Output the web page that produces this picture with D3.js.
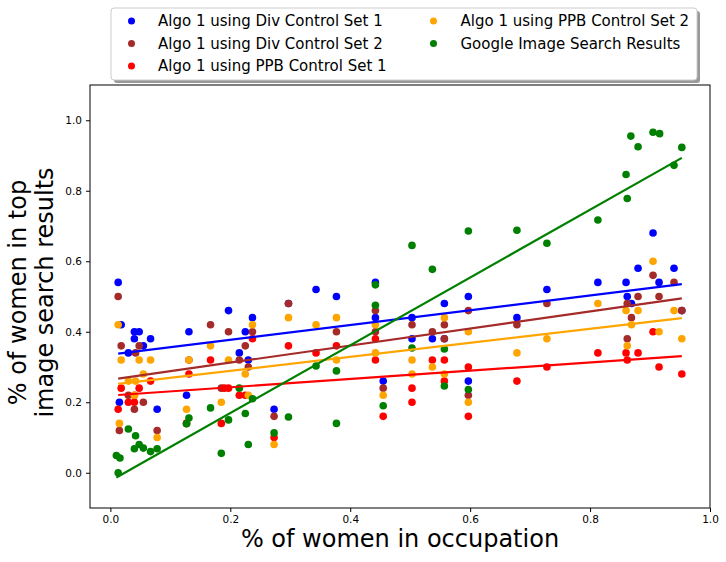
<!DOCTYPE html>
<html>
<head>
<meta charset="utf-8">
<script src="https://cdn.jsdelivr.net/npm/d3@7"></script>
<style>
body { margin: 0; background: #fff; }
text { font-family: "DejaVu Sans", sans-serif; }
</style>
</head>
<body>
<div id="vis"></div>
<script>
// values: [share of women in occupation, share in image results]
var div1 = [[0.013,0.54],[0.018,0.42],[0.015,0.20],[0.03,0.34],[0.04,0.40],[0.048,0.40],[0.04,0.38],[0.055,0.36],[0.067,0.38],[0.078,0.18],[0.131,0.40],[0.127,0.22],[0.197,0.46],[0.215,0.34],[0.225,0.40],[0.23,0.32],[0.237,0.44],[0.273,0.18],[0.297,0.48],[0.343,0.52],[0.377,0.50],[0.442,0.54],[0.442,0.44],[0.455,0.26],[0.503,0.44],[0.503,0.38],[0.537,0.38],[0.557,0.48],[0.557,0.38],[0.597,0.50],[0.597,0.26],[0.678,0.44],[0.728,0.52],[0.813,0.54],[0.86,0.54],[0.862,0.50],[0.869,0.48],[0.88,0.58],[0.905,0.68],[0.915,0.54],[0.94,0.58],[0.953,0.46]];
var div2 = [[0.013,0.50],[0.018,0.36],[0.015,0.12],[0.042,0.34],[0.048,0.36],[0.03,0.22],[0.04,0.18],[0.055,0.20],[0.078,0.12],[0.131,0.32],[0.127,0.14],[0.167,0.42],[0.185,0.24],[0.197,0.40],[0.215,0.32],[0.225,0.36],[0.23,0.30],[0.237,0.40],[0.273,0.16],[0.297,0.48],[0.377,0.40],[0.442,0.46],[0.442,0.40],[0.455,0.24],[0.503,0.42],[0.537,0.40],[0.557,0.42],[0.557,0.38],[0.597,0.46],[0.597,0.22],[0.678,0.42],[0.728,0.48],[0.862,0.48],[0.862,0.38],[0.869,0.44],[0.88,0.50],[0.905,0.56],[0.915,0.50],[0.94,0.54],[0.953,0.46]];
var ppb1 = [[0.013,0.18],[0.018,0.24],[0.03,0.20],[0.04,0.20],[0.04,0.22],[0.048,0.24],[0.067,0.26],[0.131,0.28],[0.127,0.14],[0.167,0.32],[0.185,0.14],[0.197,0.24],[0.19,0.24],[0.215,0.22],[0.225,0.22],[0.237,0.38],[0.273,0.10],[0.297,0.36],[0.343,0.34],[0.377,0.36],[0.442,0.38],[0.442,0.32],[0.455,0.16],[0.503,0.24],[0.503,0.20],[0.537,0.32],[0.557,0.32],[0.557,0.26],[0.597,0.30],[0.597,0.16],[0.678,0.26],[0.728,0.30],[0.813,0.34],[0.86,0.34],[0.862,0.32],[0.88,0.34],[0.905,0.40],[0.915,0.30],[0.953,0.28]];
var ppb2 = [[0.013,0.42],[0.018,0.32],[0.015,0.14],[0.048,0.32],[0.067,0.32],[0.055,0.28],[0.03,0.26],[0.042,0.26],[0.04,0.22],[0.078,0.10],[0.131,0.32],[0.127,0.18],[0.167,0.36],[0.185,0.20],[0.197,0.32],[0.225,0.28],[0.23,0.22],[0.237,0.42],[0.273,0.08],[0.297,0.44],[0.343,0.42],[0.377,0.44],[0.377,0.32],[0.442,0.42],[0.442,0.34],[0.455,0.22],[0.503,0.32],[0.503,0.28],[0.537,0.30],[0.557,0.44],[0.557,0.28],[0.597,0.40],[0.597,0.20],[0.678,0.34],[0.728,0.38],[0.813,0.48],[0.86,0.46],[0.862,0.36],[0.869,0.42],[0.88,0.46],[0.905,0.60],[0.915,0.40],[0.94,0.46],[0.953,0.38]];
var google = [[0.013,0.0],[0.01,0.049],[0.016,0.042],[0.03,0.124],[0.042,0.105],[0.048,0.08],[0.04,0.068],[0.055,0.07],[0.067,0.06],[0.078,0.068],[0.131,0.155],[0.127,0.139],[0.167,0.184],[0.185,0.055],[0.197,0.15],[0.215,0.24],[0.225,0.168],[0.23,0.08],[0.237,0.21],[0.273,0.113],[0.297,0.158],[0.343,0.303],[0.377,0.289],[0.377,0.14],[0.442,0.533],[0.442,0.475],[0.455,0.19],[0.503,0.645],[0.503,0.354],[0.537,0.577],[0.557,0.351],[0.557,0.246],[0.597,0.686],[0.597,0.236],[0.678,0.688],[0.728,0.651],[0.813,0.717],[0.86,0.846],[0.862,0.778],[0.868,0.955],[0.88,0.925],[0.905,0.966],[0.916,0.962],[0.94,0.872],[0.953,0.923]];

var seriesNames = ["Algo 1 using Div Control Set 1", "Algo 1 using Div Control Set 2", "Algo 1 using PPB Control Set 1", "Algo 1 using PPB Control Set 2", "Google Image Search Results"];
var seriesData = [div1, div2, ppb1, ppb2, google];
var colors = ["#0000ff", "#a52a2a", "#ff0000", "#ffa500", "#008000"];
var xTicks = [0.0, 0.2, 0.4, 0.6, 0.8, 1.0];
var yTicks = [0.0, 0.2, 0.4, 0.6, 0.8, 1.0];

var w = 726;
var h = 562;
var mLeft = 90, mRight = 710, mTop = 85, mBottom = 508;

var svg = d3.select("#vis")
            .append("svg")
            .attr("width", w)
            .attr("height", h)

const x = d3.scaleLinear().domain([-0.034, 1.0]).range([mLeft, mRight])
const y = d3.scaleLinear().domain([-0.1, 1.1]).range([mBottom, mTop])

// least squares fit for each series
function fit(pts) {
  var mx = d3.mean(pts, d => d[0]), my = d3.mean(pts, d => d[1]);
  var sxy = d3.sum(pts, d => (d[0]-mx)*(d[1]-my));
  var sxx = d3.sum(pts, d => (d[0]-mx)*(d[0]-mx));
  var b = sxy/sxx, a = my - b*mx;
  var ext = d3.extent(pts, d => d[0]);
  return ext.map(v => [v, a + b*v]);
}

seriesData.forEach(function(pts, i) {
  svg.append("g").selectAll("circle")
     .data(pts)
     .enter()
     .append("circle")
     .attr("cx", d => x(d[0]))
     .attr("cy", d => y(d[1]))
     .attr("r", 3.8)
     .attr("fill", colors[i])
});

seriesData.forEach(function(pts, i) {
  svg.append("path")
     .datum(fit(pts))
     .attr("d", d3.line().x(d => x(d[0])).y(d => y(d[1])))
     .attr("stroke", colors[i])
     .attr("stroke-width", 2.2)
     .attr("fill", "none")
});

// frame
svg.append("rect")
   .attr("x", mLeft).attr("y", mTop)
   .attr("width", mRight-mLeft).attr("height", mBottom-mTop)
   .attr("fill", "none").attr("stroke", "#000").attr("stroke-width", 1)

const xAxis = svg.append("g")
   .attr("transform", `translate(0,${mBottom})`)
   .call(d3.axisBottom(x).tickValues(xTicks).tickFormat(d3.format(".1f")).tickSize(4).tickPadding(4))
const yAxis = svg.append("g")
   .attr("transform", `translate(${mLeft},0)`)
   .call(d3.axisLeft(y).tickValues(yTicks).tickFormat(d3.format(".1f")).tickSize(4).tickPadding(4))

svg.selectAll(".domain").remove()
svg.selectAll(".tick text").attr("font-size", 10.5).attr("fill", "#000").style("font-family", "DejaVu Sans")
svg.selectAll(".tick line").attr("stroke", "#000")

svg.append("text")
   .attr("x", (mLeft+mRight)/2).attr("y", 547)
   .attr("text-anchor", "middle")
   .attr("font-size", 24)
   .text("% of women in occupation")

var yl = svg.append("text")
   .attr("transform", `translate(26,${(mTop+mBottom)/2 - 4}) rotate(-90)`)
   .attr("text-anchor", "middle")
   .attr("font-size", 24)
yl.append("tspan").attr("x", 0).attr("y", 0).text("% of women in top")
yl.append("tspan").attr("x", 0).attr("y", 27).text("image search results")

// legend
var lg = svg.append("g")
lg.append("rect").attr("x", 114).attr("y", 11).attr("width", 586).attr("height", 72)
  .attr("rx", 3).attr("fill", "#555").attr("opacity", 0.6)
lg.append("rect").attr("x", 111).attr("y", 8).attr("width", 586).attr("height", 72)
  .attr("rx", 3).attr("fill", "#fff").attr("stroke", "#ccc")

seriesNames.forEach(function(name, i) {
  var col = i < 3 ? 0 : 1;
  var row = i < 3 ? i : i - 3;
  var gx = col == 0 ? 131.5 : 433.5;
  var tx = col == 0 ? 158 : 460.5;
  var gy = 21 + row*22.5;
  lg.append("circle").attr("cx", gx).attr("cy", gy).attr("r", 3.5).attr("fill", colors[i])
  lg.append("text").attr("x", tx).attr("y", gy).attr("dy", "0.36em")
    .attr("font-size", 15).text(name)
});
</script>
</body>
</html>
